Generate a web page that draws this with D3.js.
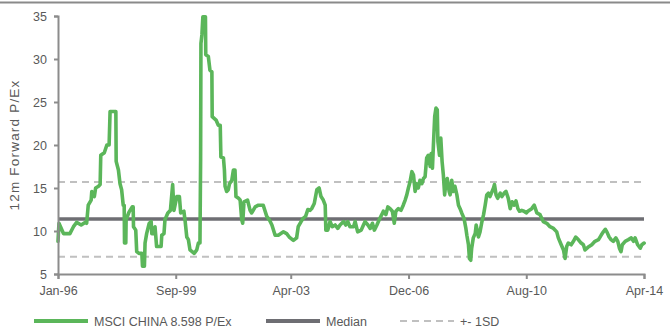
<!DOCTYPE html>
<html>
<head>
<meta charset="utf-8">
<script src="https://cdn.jsdelivr.net/npm/d3@7"></script>
<style>
  html, body { margin: 0; padding: 0; background: #fff; }
  svg { display: block; }
  text { font-family: "Liberation Sans", Arial, sans-serif; fill: #595959; }
</style>
</head>
<body>
<svg id="chart" width="670" height="331"></svg>
<script>
// MSCI China 12-month forward P/E, weekly observations (decimal year, P/E)
const years = [
  1996.00,1996.03,1996.17,1996.37,1996.48,1996.58,1996.72,1996.84,1996.89,1996.94,
  1997.03,1997.05,1997.13,1997.17,1997.26,1997.31,1997.33,1997.44,1997.52,1997.59,
  1997.62,1997.80,1997.81,1997.88,1997.93,1997.98,1998.03,1998.06,1998.07,1998.11,
  1998.12,1998.21,1998.31,1998.34,1998.35,1998.42,1998.45,1998.52,1998.61,1998.63,
  1998.69,1998.71,1998.76,1998.84,1998.90,1998.92,1998.99,1999.02,1999.07,1999.21,
  1999.23,1999.30,1999.33,1999.42,1999.50,1999.57,1999.61,1999.70,1999.78,1999.82,
  1999.92,1999.96,2000.01,2000.06,2000.11,2000.24,2000.32,2000.37,2000.42,2000.44,
  2000.45,2000.48,2000.51,2000.59,2000.60,2000.68,2000.73,2000.79,2000.80,2000.92,
  2000.99,2001.05,2001.07,2001.15,2001.18,2001.20,2001.25,2001.30,2001.34,2001.41,
  2001.46,2001.51,2001.54,2001.62,2001.67,2001.72,2001.75,2001.79,2001.90,2001.98,
  2002.03,2002.14,2002.24,2002.39,2002.50,2002.58,2002.66,2002.76,2002.86,2003.02,
  2003.12,2003.20,2003.33,2003.43,2003.48,2003.57,2003.64,2003.71,2003.78,2003.85,
  2003.90,2003.98,2004.06,2004.13,2004.19,2004.26,2004.32,2004.34,2004.40,2004.47,
  2004.54,2004.63,2004.71,2004.78,2004.89,2004.96,2005.02,2005.09,2005.20,2005.25,
  2005.33,2005.44,2005.51,2005.56,2005.65,2005.72,2005.79,2005.85,2005.93,2006.00,
  2006.08,2006.13,2006.21,2006.27,2006.34,2006.41,2006.47,2006.52,2006.60,2006.68,
  2006.75,2006.81,2006.86,2006.91,2006.96,2007.02,2007.07,2007.12,2007.17,2007.22,
  2007.27,2007.33,2007.38,2007.43,2007.48,2007.53,2007.59,2007.62,2007.66,2007.69,
  2007.73,2007.77,2007.81,2007.83,2007.88,2007.92,2007.96,2008.00,2008.04,2008.08,
  2008.12,2008.18,2008.21,2008.26,2008.31,2008.36,2008.42,2008.47,2008.52,2008.57,
  2008.64,2008.70,2008.73,2008.78,2008.81,2008.85,2008.88,2008.93,2008.99,2009.02,
  2009.09,2009.14,2009.20,2009.25,2009.30,2009.35,2009.40,2009.45,2009.56,2009.59,
  2009.64,2009.69,2009.77,2009.82,2009.89,2009.95,2010.02,2010.08,2010.14,2010.20,
  2010.26,2010.32,2010.37,2010.44,2010.51,2010.58,2010.63,2010.75,2010.83,2010.91,
  2011.01,2011.11,2011.22,2011.32,2011.43,2011.53,2011.58,2011.67,2011.74,2011.79,
  2011.84,2011.89,2011.98,2012.05,2012.12,2012.20,2012.29,2012.36,2012.41,2012.50,
  2012.62,2012.72,2012.83,2012.91,2012.98,2013.04,2013.09,2013.16,2013.22,2013.29,
  2013.37,2013.43,2013.48,2013.53,2013.57,2013.66,2013.76,2013.85,2013.92,2013.97,
  2014.05,2014.13,2014.18,2014.25
];
const pe = [
  8.8,10.9,9.7,9.7,10.5,11.0,10.7,11.0,10.9,13.0,
  13.6,14.6,14.0,15.0,15.2,15.4,18.8,19.1,20.0,20.0,
  23.9,23.9,18.1,17.1,15.5,14.8,13.0,13.0,8.6,8.6,
  11.3,12.2,12.8,12.8,10.5,10.1,7.6,7.4,7.4,5.9,
  5.9,8.6,9.7,10.9,11.1,9.7,9.7,10.5,8.2,8.2,
  9.5,9.7,11.3,12.1,12.4,15.4,12.4,14.0,14.0,12.1,
  12.3,11.1,9.3,9.0,7.8,7.4,7.8,8.6,8.6,18.3,
  31.8,32.8,34.9,34.9,30.5,30.3,28.7,28.5,23.3,22.9,
  22.3,22.3,18.6,18.5,17.1,15.2,14.6,14.8,15.5,15.9,
  17.1,17.1,14.0,13.8,13.6,11.3,10.9,13.4,13.6,12.4,
  12.1,12.8,13.0,13.0,11.7,11.3,10.7,9.5,9.5,9.9,
  9.7,9.3,8.9,9.2,10.5,11.1,11.5,11.7,12.5,12.4,
  12.6,13.2,14.8,15.0,14.0,13.6,13.0,10.1,10.1,11.1,
  10.5,10.7,10.3,10.7,11.1,10.7,11.1,10.5,10.5,11.1,
  9.9,10.1,10.7,11.1,10.7,10.3,10.9,10.1,10.7,11.3,
  11.9,12.3,11.9,12.8,12.6,12.3,10.9,12.3,12.6,12.4,
  13.0,13.6,14.2,15.0,15.7,16.9,16.5,14.6,15.5,15.0,
  15.9,15.5,16.1,16.3,18.5,18.8,17.5,19.0,17.3,20.0,
  23.3,24.3,24.1,20.4,18.8,20.8,18.1,16.5,14.2,15.7,
  16.1,14.6,14.2,15.9,14.6,15.2,14.2,13.0,12.6,12.1,
  11.5,10.3,9.5,8.4,6.8,6.6,8.0,9.2,9.7,10.7,
  9.3,9.9,11.1,11.9,13.0,14.2,14.4,14.0,15.0,15.4,
  14.2,13.8,14.4,14.0,14.4,14.6,13.8,12.6,13.4,13.0,
  13.5,12.6,12.3,12.4,12.3,12.1,12.3,12.6,13.0,12.1,
  11.9,11.1,10.9,10.5,10.3,9.9,9.2,8.4,7.8,6.8,
  8.2,8.6,8.4,8.8,9.3,9.0,8.6,8.4,7.8,8.1,
  8.4,8.8,9.0,9.5,9.9,10.2,9.9,9.3,9.0,8.8,
  9.2,8.8,8.0,7.6,8.4,8.8,9.0,9.2,8.8,9.2,
  8.4,8.0,8.4,8.598
];

// Reference levels: median and +/- one standard deviation
const medianValue = 11.4;
const sdBand = [7.0, 15.7];

// Axes
const yTicks = [5, 10, 15, 20, 25, 30, 35];
const xTickDates = ["1996-01-01", "1999-09-01", "2003-04-01", "2006-12-01", "2010-08-01", "2014-04-01"];
const xTickLabels = ["Jan-96", "Sep-99", "Apr-03", "Dec-06", "Aug-10", "Apr-14"];

// Legend
const legendLabels = ["MSCI CHINA 8.598 P/Ex", "Median", "+- 1SD"];
const yTitle = "12m Forward P/Ex";

const GREEN = "#5bb65a";
const DARK = "#6e6e73";
const LIGHT = "#c0c0c0";
const AXIS = "#8c8c8c";

function decToDate(v) {
  const yr = Math.floor(v);
  const a = new Date(yr, 0, 1), b = new Date(yr + 1, 0, 1);
  return new Date(+a + (v - yr) * (b - a));
}

const parse = d3.timeParse("%Y-%m-%d");
const tickDates = xTickDates.map(parse);
const n = Math.min(years.length, pe.length);
const series = years.slice(0, n).map((v, i) => ({ date: decToDate(v), value: pe[i] }));

const svg = d3.select("#chart");
const plotLeft = 58, plotRight = 644, plotTop = 16, plotBottom = 274;

const x = d3.scaleTime().domain([tickDates[0], tickDates[tickDates.length - 1]]).range([plotLeft, plotRight]);
const y = d3.scaleLinear().domain([5, 35]).range([plotBottom, plotTop]);

// frame line along the top edge
svg.append("line").attr("x1", 0).attr("x2", 670).attr("y1", 2.5).attr("y2", 2.5)
  .attr("stroke", "#8a8a8a").attr("stroke-width", 2);

// +/- 1SD dashed lines
svg.append("g").selectAll("line").data(sdBand).join("line")
  .attr("x1", plotLeft).attr("x2", plotRight)
  .attr("y1", d => y(d)).attr("y2", d => y(d))
  .attr("stroke", LIGHT).attr("stroke-width", 2).attr("stroke-dasharray", "7,5");

// median line
svg.append("line").attr("x1", plotLeft).attr("x2", plotRight)
  .attr("y1", y(medianValue)).attr("y2", y(medianValue))
  .attr("stroke", DARK).attr("stroke-width", 3.5);

// P/E series
const line = d3.line().x(d => x(d.date)).y(d => y(d.value));
svg.append("path").datum(series)
  .attr("d", line).attr("fill", "none")
  .attr("stroke", GREEN).attr("stroke-width", 3.6)
  .attr("stroke-linejoin", "round").attr("stroke-linecap", "round");

// y axis
const yAxis = svg.append("g").attr("transform", `translate(${plotLeft},0)`)
  .call(d3.axisLeft(y).tickValues(yTicks).tickSize(4).tickPadding(7).tickFormat(d3.format("d")));
yAxis.select(".domain").attr("stroke", AXIS).attr("stroke-width", 2);
yAxis.selectAll(".tick line").attr("stroke", AXIS).attr("stroke-width", 2);
yAxis.selectAll("text").attr("font-size", 12.5).attr("fill", "#595959")
  .style("font-family", "Liberation Sans, Arial, sans-serif");

// x axis
const xAxis = svg.append("g").attr("transform", `translate(0,${plotBottom})`)
  .call(d3.axisBottom(x).tickValues(tickDates).tickSize(5).tickPadding(7)
    .tickFormat((d, i) => xTickLabels[i]));
xAxis.select(".domain").attr("stroke", AXIS).attr("stroke-width", 2);
xAxis.selectAll(".tick line").attr("stroke", AXIS).attr("stroke-width", 2);
xAxis.selectAll("text").attr("font-size", 12.5).attr("fill", "#595959")
  .style("font-family", "Liberation Sans, Arial, sans-serif");

// y axis title
svg.append("text")
  .attr("transform", "translate(19,145) rotate(-90)")
  .attr("text-anchor", "middle").attr("font-size", 13.5)
  .attr("letter-spacing", 1.2)
  .text(yTitle);

// legend
const legend = svg.append("g").attr("transform", "translate(0,321)");
const items = [
  { x: 34, stroke: GREEN, width: 4, dash: null },
  { x: 266, stroke: DARK, width: 4, dash: null },
  { x: 400, stroke: LIGHT, width: 2, dash: "7,5" }
];
items.forEach((it, i) => {
  legend.append("line").attr("x1", it.x).attr("x2", it.x + 54).attr("y1", 0).attr("y2", 0)
    .attr("stroke", it.stroke).attr("stroke-width", it.width)
    .attr("stroke-dasharray", it.dash);
  legend.append("text").attr("x", it.x + 60).attr("y", 4.5)
    .attr("font-size", 12.5).text(legendLabels[i]);
});
</script>
</body>
</html>
